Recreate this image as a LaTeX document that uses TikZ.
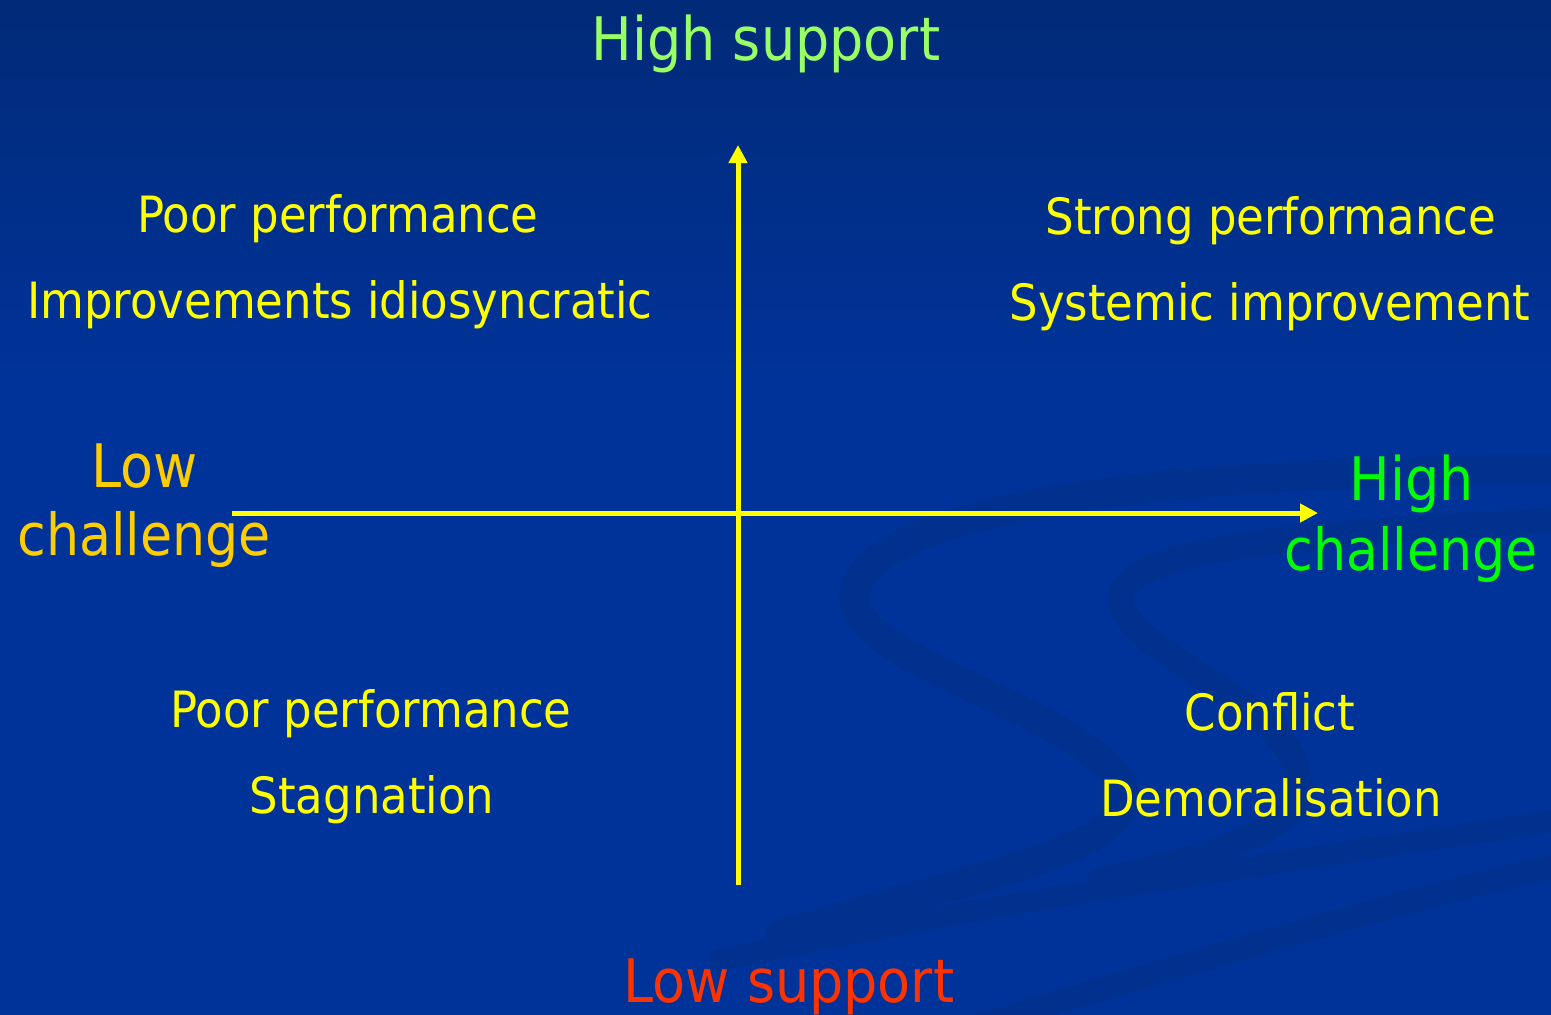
\documentclass[tikz,border=0pt]{standalone}
\usepackage{fontspec}
\setmainfont{DejaVu Sans Condensed}
\usetikzlibrary{arrows.meta}
\definecolor{bgtop}{HTML}{012A78}
\definecolor{bgmid}{HTML}{003399}
\definecolor{swirl}{HTML}{01318F}
\definecolor{quadtext}{HTML}{FFFF00}
\definecolor{hisup}{HTML}{99FF66}
\definecolor{losup}{HTML}{FF3300}
\definecolor{lochal}{HTML}{FFCC00}
\definecolor{hichal}{HTML}{00FF00}
\tikzset{
  quad/.style={anchor=base, text=quadtext, inner sep=0pt, font=\fontsize{50}{60}\selectfont},
  biglabel/.style={anchor=base, inner sep=0pt, font=\fontsize{60}{70}\selectfont},
  chal/.style={anchor=base, inner sep=0pt, font=\fontsize{58}{68}\selectfont},
  axis/.style={draw=quadtext, line width=5pt, -{Triangle[length=18pt,width=18pt]}},
  band/.style={draw=swirl, line cap=round}
}
\begin{document}
\begin{tikzpicture}[x=1pt,y=-1pt]
\useasboundingbox (0,0) rectangle (1551,1015);
\fill[bgmid] (0,0) rectangle (1551,1015);
\shade[top color=bgtop, bottom color=bgmid] (0,0) rectangle (1551,380);
% background swirl
\draw[band, line width=30pt] (1560,470) .. controls (1200,470) and (880,500) .. (855,590)
  .. controls (840,660) and (1060,700) .. (1120,780)
  .. controls (1160,850) and (950,880) .. (780,935);
\draw[band, line width=26pt] (1560,520) .. controls (1380,530) and (1120,540) .. (1120,600)
  .. controls (1130,660) and (1300,700) .. (1300,790)
  .. controls (1300,830) and (1200,860) .. (1100,880);
\draw[band, line width=22pt] (720,960) .. controls (1000,900) and (1300,860) .. (1560,820);
\draw[band, line width=24pt] (980,1025) .. controls (1200,960) and (1400,900) .. (1560,865);
% axes
\coordinate (vbot) at (738,885);
\coordinate (vtop) at (738,145);
\coordinate (hleft) at (232,513);
\coordinate (hright) at (1318,513);
\draw[axis] (vbot) -- (vtop);
\draw[axis] (hleft) -- (hright);
% axis labels
\node[biglabel, text=hisup] (hs) at (766,60) {High support};
\node[biglabel, text=losup] (ls) at (789,1002) {Low support};
\node[biglabel, text=lochal] (lc1) at (145,487) {Low};
\node[chal, text=lochal] (lc2) at (144,555) {challenge};
\node[biglabel, text=hichal] (hc1) at (1412,500) {High};
\node[chal, text=hichal] (hc2) at (1411,570) {challenge};
% quadrant texts
\node[quad] (q1a) at (338,232) {Poor performance};
\node[quad] (q1b) at (340,318) {Improvements idiosyncratic};
\node[quad] (q2a) at (1271,234) {Strong performance};
\node[quad] (q2b) at (1270,320) {Systemic improvement};
\node[quad] (q3a) at (371,727) {Poor performance};
\node[quad] (q3b) at (372,813) {Stagnation};
\node[quad] (q4a) at (1270,730) {Conflict};
\node[quad] (q4b) at (1271,816) {Demoralisation};
\end{tikzpicture}
\end{document}
